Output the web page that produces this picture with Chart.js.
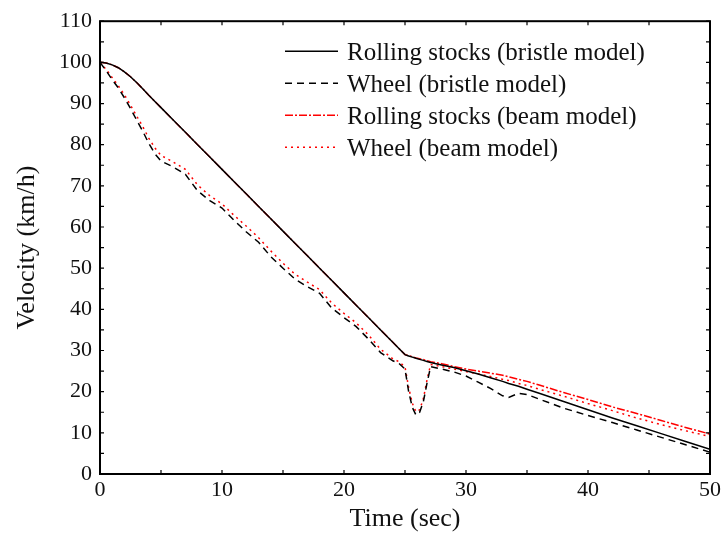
<!DOCTYPE html>
<html>
<head>
<meta charset="utf-8">
<script src="https://cdn.jsdelivr.net/npm/chart.js@4/dist/chart.umd.min.js"></script>
<style>
  html, body { margin: 0; padding: 0; background: #fff; }
  #wrap { width: 724px; height: 535px; }
</style>
</head>
<body>
<div id="wrap"><canvas id="grafico" width="724" height="535"></canvas></div>
<script>
const timeSec = [0, 0.5, 1, 1.5, 2, 2.5, 3, 3.5, 4, 4.5, 5, 6, 7, 8, 9, 10, 11, 12, 13, 14, 15, 16, 17, 18, 19, 20,
  21, 22, 23, 24, 24.5, 25, 25.3, 25.6, 25.9, 26.2, 26.5, 26.8, 27.1, 28, 29, 30, 31, 32, 33, 33.5, 34.3, 35, 36,
  38, 40, 42, 44, 46, 48, 50];

const rollingBristle = [100, 99.85, 99.4, 98.7, 97.7, 96.5, 95.1, 93.6, 92.0, 90.5, 89.0, 86.0, 83.0, 80.0, 77.0, 74.0,
  71.0, 68.0, 65.0, 62.0, 59.0, 56.0, 53.0, 50.0, 47.0, 44.0, 41.0, 38.0, 35.0, 32.0, 30.5, 29.0, 28.65, 28.4, 28.1,
  27.85, 27.6, 27.35, 27.1, 26.5, 25.85, 25.1, 24.3, 23.4, 22.5, 22.0, 21.3, 20.6, 19.6, 17.6, 15.6, 13.6, 11.7, 9.8,
  7.9, 6.0];

const wheelBristle = [100, 98.0, 95.8, 93.8, 91.4, 88.8, 86.0, 83.3, 80.3, 77.8, 76.0, 74.6, 72.8, 68.8, 66.4, 64.6,
  61.6, 58.8, 56.3, 52.8, 50.0, 47.3, 45.5, 43.9, 40.3, 38.0, 35.8, 32.8, 29.5, 27.5, 26.9, 25.5, 20.0, 16.2, 14.3,
  15.0, 17.5, 22.0, 26.1, 25.5, 24.8, 23.8, 22.3, 20.8, 19.0, 18.6, 19.6, 19.3, 18.2, 16.0, 14.2, 12.5, 10.7, 8.9,
  7.1, 5.3];

const rollingBeam = [100, 99.85, 99.4, 98.7, 97.7, 96.5, 95.1, 93.6, 92.0, 90.5, 89.0, 86.0, 83.0, 80.0, 77.0, 74.0,
  71.0, 68.0, 65.0, 62.0, 59.0, 56.0, 53.0, 50.0, 47.0, 44.0, 41.0, 38.0, 35.0, 32.0, 30.5, 29.0, 28.7, 28.5, 28.2,
  28.0, 27.8, 27.55, 27.3, 26.8, 26.1, 25.5, 25.0, 24.5, 24.0, 23.6, 23.0, 22.5, 21.6, 19.8, 18.1, 16.3, 14.7, 13.0,
  11.3, 9.7];

const wheelBeam = [100, 98.3, 96.3, 94.3, 92.1, 89.6, 87.0, 84.4, 81.6, 79.2, 77.4, 75.8, 74.0, 70.2, 67.6, 65.6,
  62.8, 60.2, 57.4, 54.2, 51.2, 48.5, 46.6, 44.8, 41.5, 39.0, 36.7, 33.8, 30.3, 28.0, 27.3, 26.0, 21.0, 17.2, 15.1,
  15.6, 18.2, 22.8, 26.6, 26.1, 25.5, 24.9, 24.3, 23.7, 23.0, 22.7, 22.0, 21.5, 20.6, 18.9, 17.1, 15.4, 13.6, 12.0,
  10.5, 9.1];

const seriesLabels = [
  'Rolling stocks (bristle model)',
  'Wheel (bristle model)',
  'Rolling stocks (beam model)',
  'Wheel (beam model)'
];

const fonte = 'Liberation Serif, Times New Roman, serif';

function pontos(valores) {
  return timeSec.map((t, i) => ({ x: t, y: valores[i] }));
}

// moldura, ticks para dentro e legenda dentro do grafico
const molduraPlugin = {
  id: 'moldura',
  afterDatasetsDraw(chart) {
    const { ctx, chartArea: a, scales } = chart;
    ctx.save();
    ctx.strokeStyle = '#000';
    ctx.lineWidth = 1.2;
    for (let v = 0; v <= 50; v += 5) {
      const px = scales.x.getPixelForValue(v);
      ctx.beginPath();
      ctx.moveTo(px, a.bottom); ctx.lineTo(px, a.bottom - 4);
      ctx.moveTo(px, a.top); ctx.lineTo(px, a.top + 4);
      ctx.stroke();
    }
    for (let v = 0; v <= 110; v += 5) {
      const py = scales.y.getPixelForValue(v);
      ctx.beginPath();
      ctx.moveTo(a.left, py); ctx.lineTo(a.left + 4, py);
      ctx.moveTo(a.right, py); ctx.lineTo(a.right - 4, py);
      ctx.stroke();
    }
    ctx.lineWidth = 2;
    ctx.strokeRect(a.left, a.top, a.right - a.left, a.bottom - a.top);

    // legenda
    const x0 = a.left + 185, x1 = a.left + 238, xt = a.left + 247;
    ctx.font = '25px ' + fonte;
    ctx.textBaseline = 'middle';
    chart.data.datasets.forEach((ds, i) => {
      const y = a.top + 30 + i * 32;
      ctx.beginPath();
      ctx.setLineDash(ds.borderDash || []);
      ctx.strokeStyle = ds.borderColor;
      ctx.lineWidth = ds.borderWidth;
      ctx.moveTo(x0, y); ctx.lineTo(x1, y);
      ctx.stroke();
      ctx.setLineDash([]);
      ctx.fillStyle = '#111';
      ctx.fillText(ds.label, xt, y + 2);
    });
    ctx.restore();
  }
};

const config = {
  type: 'line',
  data: {
    datasets: [
      { label: seriesLabels[0], data: pontos(rollingBristle), borderColor: '#000', borderWidth: 1.5, borderDash: [] },
      { label: seriesLabels[1], data: pontos(wheelBristle), borderColor: '#000', borderWidth: 1.5, borderDash: [7, 5] },
      { label: seriesLabels[2], data: pontos(rollingBeam), borderColor: '#ff0000', borderWidth: 1.5, borderDash: [8, 2, 2, 2] },
      { label: seriesLabels[3], data: pontos(wheelBeam), borderColor: '#ff0000', borderWidth: 1.5, borderDash: [2, 4] }
    ]
  },
  options: {
    responsive: false,
    animation: false,
    elements: { point: { radius: 0 }, line: { tension: 0 } },
    layout: { padding: { left: 0, right: 12, top: 21, bottom: 0 } },
    plugins: { legend: { display: false }, tooltip: { enabled: false } },
    scales: {
      x: {
        type: 'linear',
        min: 0,
        max: 50,
        ticks: { stepSize: 10, color: '#111', font: { family: fonte, size: 22 }, padding: 3, maxRotation: 0 },
        grid: { display: false, drawTicks: false },
        border: { display: false },
        title: { display: true, text: 'Time (sec)', color: '#111', font: { family: fonte, size: 26 }, padding: { top: 0, bottom: 0 } },
        afterFit: (scale) => { scale.height = 61; }
      },
      y: {
        min: 0,
        max: 110,
        ticks: { stepSize: 10, color: '#111', font: { family: fonte, size: 22 }, padding: 8 },
        grid: { display: false, drawTicks: false },
        border: { display: false },
        title: { display: true, text: 'Velocity (km/h)', color: '#111', font: { family: fonte, size: 26 }, padding: { top: 12, bottom: 0 } },
        afterFit: (scale) => { scale.width = 100; }
      }
    }
  },
  plugins: [molduraPlugin]
};

const ctx = document.getElementById('grafico').getContext('2d');
new Chart(ctx, config);
</script>
</body>
</html>
